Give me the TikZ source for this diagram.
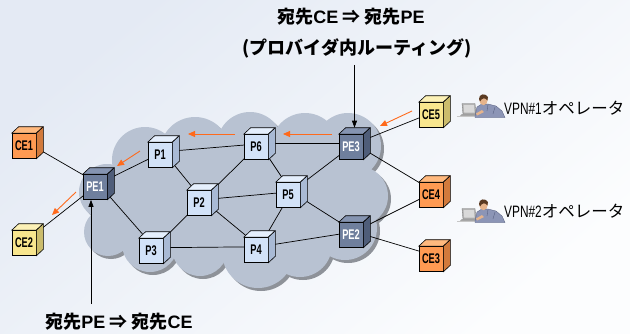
\documentclass[tikz,border=0pt]{standalone}
\usepackage{fontspec}
\newfontfamily\jp{Noto Sans CJK JP}
\newfontfamily\lat{Liberation Sans}
\newfontfamily\latnarrow{Liberation Sans}[FakeStretch=0.72]
\newfontfamily\cubefont{Liberation Sans}[FakeStretch=0.66]
\usetikzlibrary{arrows.meta}
\pgfdeclarelayer{back}
\pgfdeclarelayer{mid}
\pgfsetlayers{back,mid,main}

% cube colours: F = front, T = top, S = side
\definecolor{ceoF}{HTML}{FF9A52}\definecolor{ceoT}{HTML}{FFB97E}\definecolor{ceoS}{HTML}{D27A3C}
\definecolor{ceyF}{HTML}{F8E68E}\definecolor{ceyT}{HTML}{FCF1B6}\definecolor{ceyS}{HTML}{CBBC6C}
\definecolor{pedgF}{HTML}{6F7F9D}\definecolor{pedgT}{HTML}{8594B1}\definecolor{pedgS}{HTML}{4F5D79}
\definecolor{pcorF}{HTML}{D2E2F8}\definecolor{pcorT}{HTML}{E5EFFD}\definecolor{pcorS}{HTML}{A9BAD5}
\definecolor{cloudc}{HTML}{B8C2D2}
\definecolor{cloudsh}{HTML}{8E9299}
\definecolor{flow}{HTML}{FF6A1C}
\definecolor{bgA}{HTML}{E4EAF4}
\definecolor{bgB}{HTML}{FCFDFE}
% operator icon colours
\definecolor{shirt}{HTML}{8C95B6}
\definecolor{shirtln}{HTML}{4F5778}
\definecolor{skin}{HTML}{E6B48C}
\definecolor{hair}{HTML}{5A3A22}

\tikzset{
  cubefront/.style={draw=black, line width=0.6pt, minimum width=24pt, minimum height=25pt,
    inner sep=0pt, font=\cubefont\bfseries\fontsize{14}{14}\selectfont},
  ceo/.style={}, cey/.style={}, pedg/.style={text=white}, pcor/.style={},
  cubeside/.style={draw=black, line width=0.6pt, line join=round},
  link/.style={draw=black, line width=0.7pt},
  flowarrow/.style={draw=flow, line width=0.9pt, -{Triangle[length=7pt,width=6pt]}},
  pointer/.style={draw=black, line width=0.7pt, -{Triangle[length=7pt,width=5pt]}},
  headline/.style={font=\jp\bfseries\fontsize{18}{20}\selectfont, inner sep=1pt},
  oplabel/.style={font=\jp\fontsize{16.5}{19}\selectfont, anchor=west, inner sep=0pt},
}

% a cube: kind, name, front-face centre, label
\newcommand\netcube[4]{%
  \node[cubefront, fill=#1F, #1] (#2) at (#3) {#4};
  \filldraw[cubeside, fill=#1T] (#2.north west) -- ++(7,-6.5)
     -- ([shift={(7,-6.5)}]#2.north east) -- (#2.north east) -- cycle;
  \filldraw[cubeside, fill=#1S] (#2.north east) -- ++(7,-6.5)
     -- ([shift={(7,-6.5)}]#2.south east) -- (#2.south east) -- cycle;
}
% a link between the centres of two cubes
\newcommand\link[2]{\draw[link] ([shift={(3.5,-3.25)}]#1.center) -- ([shift={(3.5,-3.25)}]#2.center);}

% operator at a laptop
\newcommand\operatoricon[2]{%
  \coordinate (#1) at (#2);
  \begin{scope}[shift={(#2)}]
    \fill[gray!45] (0,23) rectangle (32,24.4);
    \fill[gray!70] (3,22.8) -- (25,22.8) -- (23,21) -- (5,21) -- cycle;
    \fill[gray!60, draw=gray!85!black, line width=0.3pt] (5,10.5) -- (18,10.5) -- (19,21) -- (6,21) -- cycle;
    \fill[gray!30] (6.5,12) -- (16.8,12) -- (17.6,19.5) -- (7.3,19.5) -- cycle;
    \filldraw[fill=shirt, draw=shirtln, line width=0.3pt]
      (18,23) -- (20,14) -- (24,11.5) -- (31,11) -- (39,13) -- (45,18) -- (48,24.5) -- (18,24.5) -- cycle;
    \draw[shirtln, line width=0.3pt] (31,11.5) -- (30,18) (38,14) -- (36,21);
    \fill[skin] (26.5,7) ellipse (4.2 and 5.2);
    \fill[hair] (22,6) .. controls (21.5,0.5) and (29,0) .. (31,4) -- (30.4,7.5)
       .. controls (28.5,4.5) and (25,4.5) .. (23,8.5) -- cycle;
    \fill[skin] (19,20.5) -- (25,17) -- (27,19) -- (20,22.5) -- cycle;
  \end{scope}
}

\begin{document}
\begin{tikzpicture}[x=1pt, y=-1pt]
\useasboundingbox (0,0) rectangle (630,333);

\begin{pgfonlayer}{back}
  \shade[top color=bgA, bottom color=bgB, shading angle=40] (0,0) rectangle (630,333);
  % cloud: shadow first, then the body
  \foreach \dx/\dy/\col in {3/3/cloudsh, 0/0/cloudc}{
    \begin{scope}[shift={(\dx,\dy)}]
      \fill[\col] (120,160) rectangle (365,245);
      \foreach \cx/\cy/\r in {145/160/33, 195/152/35, 250/145/33, 305/147/34, 348/146/33,
                              358/196/30, 345/228/32, 300/245/32, 258/252/36, 200/248/28,
                              150/244/28, 108/232/24, 107/192/28}
        \fill[\col] (\cx,\cy) circle (\r);
    \end{scope}
  }
\end{pgfonlayer}

% edge devices and core
\netcube{ceo}{CE1}{24,146}{CE1}
\netcube{cey}{CE2}{24,243}{CE2}
\netcube{pedg}{PE1}{95,187}{PE1}
\netcube{pcor}{P1}{160,155}{P1}
\netcube{pcor}{P2}{199,203}{P2}
\netcube{pcor}{P3}{151,251}{P3}
\netcube{pcor}{P6}{256,147}{P6}
\netcube{pcor}{P5}{288,195}{P5}
\netcube{pcor}{P4}{256,250}{P4}
\netcube{pedg}{PE3}{351,147}{PE3}
\netcube{pedg}{PE2}{351,235}{PE2}
\netcube{cey}{CE5}{431,115}{CE5}
\netcube{ceo}{CE4}{431,195}{CE4}
\netcube{ceo}{CE3}{431,259}{CE3}

\begin{pgfonlayer}{mid}
  \link{CE1}{PE1} \link{CE2}{PE1}
  \link{PE1}{P1}  \link{PE1}{P3}
  \link{P1}{P6}   \link{P1}{P2}
  \link{P2}{P6}   \link{P2}{P3}  \link{P2}{P5}  \link{P2}{P4}
  \link{P3}{P4}
  \link{P6}{P5}   \link{P6}{PE3}
  \link{P5}{PE3}  \link{P5}{PE2} \link{P5}{P4}
  \link{P4}{PE2}
  \link{PE3}{CE5} \link{PE3}{CE4}
  \link{PE2}{CE4} \link{PE2}{CE3}
\end{pgfonlayer}

% traffic direction
\coordinate (f1a) at (412,111); \coordinate (f1b) at (380,126);
\coordinate (f2a) at (332,134); \coordinate (f2b) at (283,134);
\coordinate (f3a) at (235,134); \coordinate (f3b) at (188,134);
\coordinate (f4a) at (140,151); \coordinate (f4b) at (117,166);
\coordinate (f5a) at (76,192);  \coordinate (f5b) at (52,215);
\foreach \k in {1,...,5} \draw[flowarrow] (f\k a) -- (f\k b);

% headings
\node[headline] (dst1) at (351,17) {宛先{\lat CE} ⇒ 宛先{\lat PE}};
\node[headline] (dst2) at (357,48) {(プロバイダ内ルーティング)};
\node[headline] (dstB) at (119,322) {宛先{\lat PE} ⇒ 宛先{\lat CE}};

\coordinate (pe3top) at ([shift={(3.5,-6.5)}]PE3.north);
\draw[pointer, shorten <=6pt] (pe3top |- dst2.south) -- (pe3top);
\coordinate (pe1foot) at ([xshift=-4]PE1.south);
\draw[pointer, shorten <=8pt] (pe1foot |- dstB.north) -- (pe1foot);

% operators
\operatoricon{op1icon}{457,93}
\operatoricon{op2icon}{457,198}
\node[oplabel] (op1) at (504,108) {{\latnarrow VPN\#1}オペレータ};
\node[oplabel] (op2) at (504,211) {{\latnarrow VPN\#2}オペレータ};
\end{tikzpicture}
\end{document}
